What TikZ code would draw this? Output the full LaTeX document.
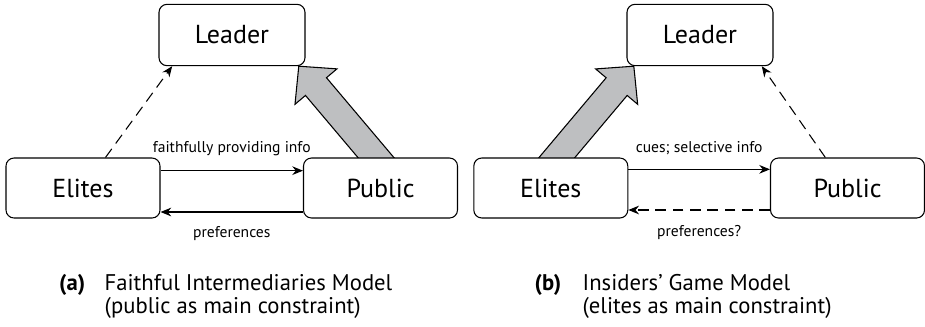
\documentclass[tikz,border=0pt]{standalone}
\usepackage{fontspec}
\setmainfont{PT Sans}
\usetikzlibrary{arrows.meta,positioning,calc,backgrounds}
\definecolor{fatgray}{RGB}{190,191,193}
% thick outlined arrow from tail #1 to tip #2
\newcommand{\fatarrow}[2]{%
  \path ($(#2)!20pt!(#1)$) coordinate (hb);
  \draw[fat] ($(#1)!10.3pt!90:(#2)$) -- ($(hb)!10.3pt!90:(#2)$) -- ($(hb)!20.6pt!90:(#2)$) -- (#2) -- ($(hb)!20.6pt!-90:(#2)$) -- ($(hb)!10.3pt!-90:(#2)$) -- ($(#1)!10.3pt!-90:(#2)$) -- cycle;}

\begin{document}
\begin{tikzpicture}[x=0.75pt,y=-0.75pt,>={Stealth[length=8pt,width=6.5pt]},every node/.style={align=center},actor/.style={draw,line width=0.8pt,rounded corners=6pt,fill=white,minimum width=115.5pt,minimum height=45pt,inner sep=0pt,font=\fontsize{19.5}{22}\selectfont},lead/.style={actor,minimum width=109.5pt,minimum height=46pt},trans/.style={->,line width=0.8pt},weak/.style={->,line width=0.8pt,dash pattern=on 8pt off 5pt},fat/.style={line width=0.8pt,fill=fatgray,line join=miter},lbl/.style={font=\fontsize{11.7}{14}\selectfont},captag/.style={font=\fontsize{17}{20}\selectfont\bfseries,anchor=base east},capt/.style={font=\fontsize{17}{20}\selectfont,anchor=base west}]
\useasboundingbox (0,0) rectangle (925,326);
% (a) faithful intermediaries
\node[lead] (ldA) at (232,35) {Leader};
\node[actor] (elA) at (83,188) {Elites};
\node[actor] (puA) at (380.5,188) {Public};
\draw[trans] ([yshift=13pt]elA.east) -- node[lbl,yshift=16.5pt]{faithfully providing info} ([yshift=13pt]puA.west);
\draw[trans] ([yshift=-18pt]puA.west) -- node[lbl,yshift=-16pt]{preferences} ([yshift=-18pt]elA.east);
\draw[weak] ($(elA.north west)!0.645!(elA.north east)$) -- ($(ldA.south west)!0.093!(ldA.south east)$);
\coordinate (tipA) at ($(ldA.south east)!0.046!(ldA.south west)$);
\coordinate (baseA) at ($(puA.north west)!0.47!(puA.north east)$);
\coordinate (tailA) at ($(tipA)!1.12!(baseA)$);
\begin{scope}[on background layer]
\fatarrow{tailA}{tipA}
\end{scope}
\node[captag] (tagA) at (90,290) {(a)};
\node[capt] (capA1) at (100,290) {Faithful Intermediaries Model};
\node[capt] (capA2) at (100,313) {(public as main constraint)};
% (b) insiders' game
\node[lead] (ldB) at (700,35) {Leader};
\node[actor] (elB) at (550.8,188) {Elites};
\node[actor] (puB) at (847.5,188) {Public};
\draw[trans] ([yshift=14pt]elB.east) -- node[lbl,yshift=16pt]{cues; selective info} ([yshift=14pt]puB.west);
\draw[weak] ([yshift=-16.5pt]puB.west) -- node[lbl,yshift=-17pt]{preferences?} ([yshift=-16.5pt]elB.east);
\draw[weak] ($(puB.north west)!0.357!(puB.north east)$) -- ($(ldB.south west)!0.92!(ldB.south east)$);
\coordinate (tipB) at ($(ldB.south west)!0.05!(ldB.south east)$);
\coordinate (baseB) at ($(elB.north west)!0.54!(elB.north east)$);
\coordinate (tailB) at ($(tipB)!1.12!(baseB)$);
\begin{scope}[on background layer]
\fatarrow{tailB}{tipB}
\end{scope}
\node[captag] (tagB) at (566,290) {(b)};
\node[capt] (capB1) at (578,290) {Insiders' Game Model};
\node[capt] (capB2) at (578,313) {(elites as main constraint)};
\end{tikzpicture}
\end{document}
